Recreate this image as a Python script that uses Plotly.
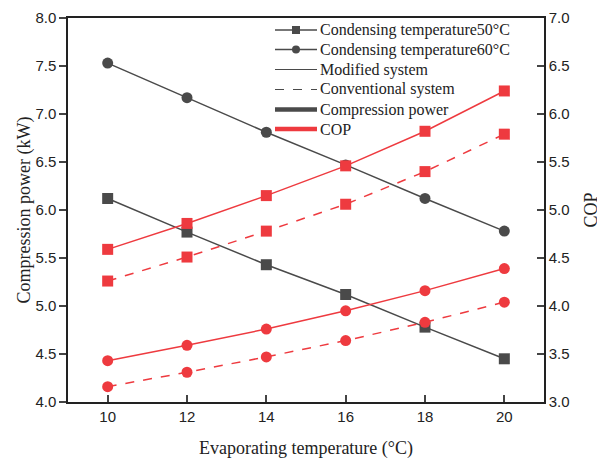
import plotly.graph_objects as go

evap_temp = [10, 12, 14, 16, 18, 20]

# Compression power (kW), left axis
power_50 = [6.12, 5.77, 5.43, 5.12, 4.78, 4.45]
power_60 = [7.53, 7.17, 6.81, 6.47, 6.12, 5.78]

# COP, right axis
cop_mod_50 = [4.59, 4.86, 5.15, 5.46, 5.82, 6.24]
cop_conv_50 = [4.26, 4.51, 4.78, 5.06, 5.40, 5.79]
cop_mod_60 = [3.43, 3.59, 3.76, 3.95, 4.16, 4.39]
cop_conv_60 = [3.16, 3.31, 3.47, 3.64, 3.83, 4.04]

legend_names = ["Condensing temperature50\u00b0C", "Condensing temperature60\u00b0C",
                "Modified system", "Conventional system", "Compression power", "COP"]

GRAY = "#4a4a4a"
RED = "#ee3a3f"
TXT = "#222222"
SERIF = "Liberation Serif, Times New Roman, serif"
SANS = "Liberation Sans, Arial, sans-serif"

# the page body has an 8px default margin; size the figure so it fits the window
OFF = 8
W, H = 605 - OFF, 459 - OFF
# plot area in window pixels: x 68..544, y 18..402
ML, MT = 68 - OFF, 18 - OFF
MR, MB = 605 - 544, 459 - 402
PW, PH = W - ML - MR, H - MT - MB

fig = go.Figure()

def add(name, y, color, symbol, dash, axis):
    fig.add_trace(go.Scatter(
        x=evap_temp, y=y, name=name, mode="lines+markers", yaxis=axis, showlegend=False,
        line=dict(color=color, width=1.5, dash=dash),
        marker=dict(symbol=symbol, size=11, color=color)))

add("Power 50\u00b0C", power_50, GRAY, "square", "solid", "y")
add("Power 60\u00b0C", power_60, GRAY, "circle", "solid", "y")
add("COP modified 50\u00b0C", cop_mod_50, RED, "square", "solid", "y2")
add("COP conventional 50\u00b0C", cop_conv_50, RED, "square", "dash", "y2")
add("COP modified 60\u00b0C", cop_mod_60, RED, "circle", "solid", "y2")
add("COP conventional 60\u00b0C", cop_conv_60, RED, "circle", "dash", "y2")

# manual legend (window pixel targets converted to paper coordinates)
def px(x):
    return (x - OFF - ML) / PW

def py(y):
    return (H - MB - (y - OFF)) / PH

leg_rows = [30, 49.5, 69.5, 89.5, 109.5, 129]
leg_x0, leg_x1, leg_mx, leg_tx = 275, 317, 296, 318
leg_styles = [
    dict(color=GRAY, width=1.5, dash="solid", marker="square"),
    dict(color=GRAY, width=1.5, dash="solid", marker="circle"),
    dict(color=GRAY, width=1, dash="solid", marker=None),
    dict(color=GRAY, width=1, dash="dash", marker=None),
    dict(color=GRAY, width=4.5, dash="solid", marker=None),
    dict(color=RED, width=4.5, dash="solid", marker=None),
]
shapes = []
annotations = []
for name, row, st in zip(legend_names, leg_rows, leg_styles):
    shapes.append(dict(type="line", xref="paper", yref="paper",
                       x0=px(leg_x0), x1=px(leg_x1), y0=py(row), y1=py(row),
                       line=dict(color=st["color"], width=st["width"], dash=st["dash"])))
    if st["marker"]:
        r = 4
        shapes.append(dict(type="rect" if st["marker"] == "square" else "circle",
                           xref="paper", yref="paper",
                           x0=px(leg_mx - r), x1=px(leg_mx + r),
                           y0=py(row + r), y1=py(row - r),
                           fillcolor=st["color"], line=dict(width=0)))
    annotations.append(dict(text=name, xref="paper", yref="paper",
                            x=px(leg_tx), y=py(row), xanchor="left", yanchor="middle",
                            showarrow=False, font=dict(family=SERIF, size=16, color=TXT)))

fig.update_layout(
    width=W, height=H,
    margin=dict(l=ML, r=MR, t=MT, b=MB),
    plot_bgcolor="white", paper_bgcolor="white",
    showlegend=False,
    shapes=shapes, annotations=annotations,
    xaxis=dict(range=[9, 21], tick0=10, dtick=2, ticks="inside", ticklen=7, tickwidth=1.5,
               showline=True, linecolor=TXT, linewidth=1.5, mirror=True,
               showgrid=False, zeroline=False, automargin=False,
               tickfont=dict(family=SANS, size=15, color=TXT),
               title=dict(text="Evaporating temperature (\u00b0C)",
                          font=dict(family=SERIF, size=18, color=TXT), standoff=18)),
    yaxis=dict(range=[4, 8], dtick=0.5, tickformat=".1f", ticks="outside", ticklen=7, tickwidth=1.5,
               showline=True, linecolor=TXT, linewidth=1.5,
               showgrid=False, zeroline=False, automargin=False,
               tickfont=dict(family=SANS, size=15, color=TXT),
               title=dict(text="Compression power (kW)",
                          font=dict(family=SERIF, size=18, color=TXT), standoff=0)),
    yaxis2=dict(range=[3, 7], dtick=0.5, tickformat=".1f", ticks="inside", ticklen=7, tickwidth=1.5,
                overlaying="y", side="right",
                showline=True, linecolor=TXT, linewidth=1.5,
                showgrid=False, zeroline=False, automargin=False,
                tickfont=dict(family=SANS, size=15, color=TXT),
                title=dict(text="COP", font=dict(family=SERIF, size=18, color=TXT), standoff=16)),
)

fig.write_html("out.html")
